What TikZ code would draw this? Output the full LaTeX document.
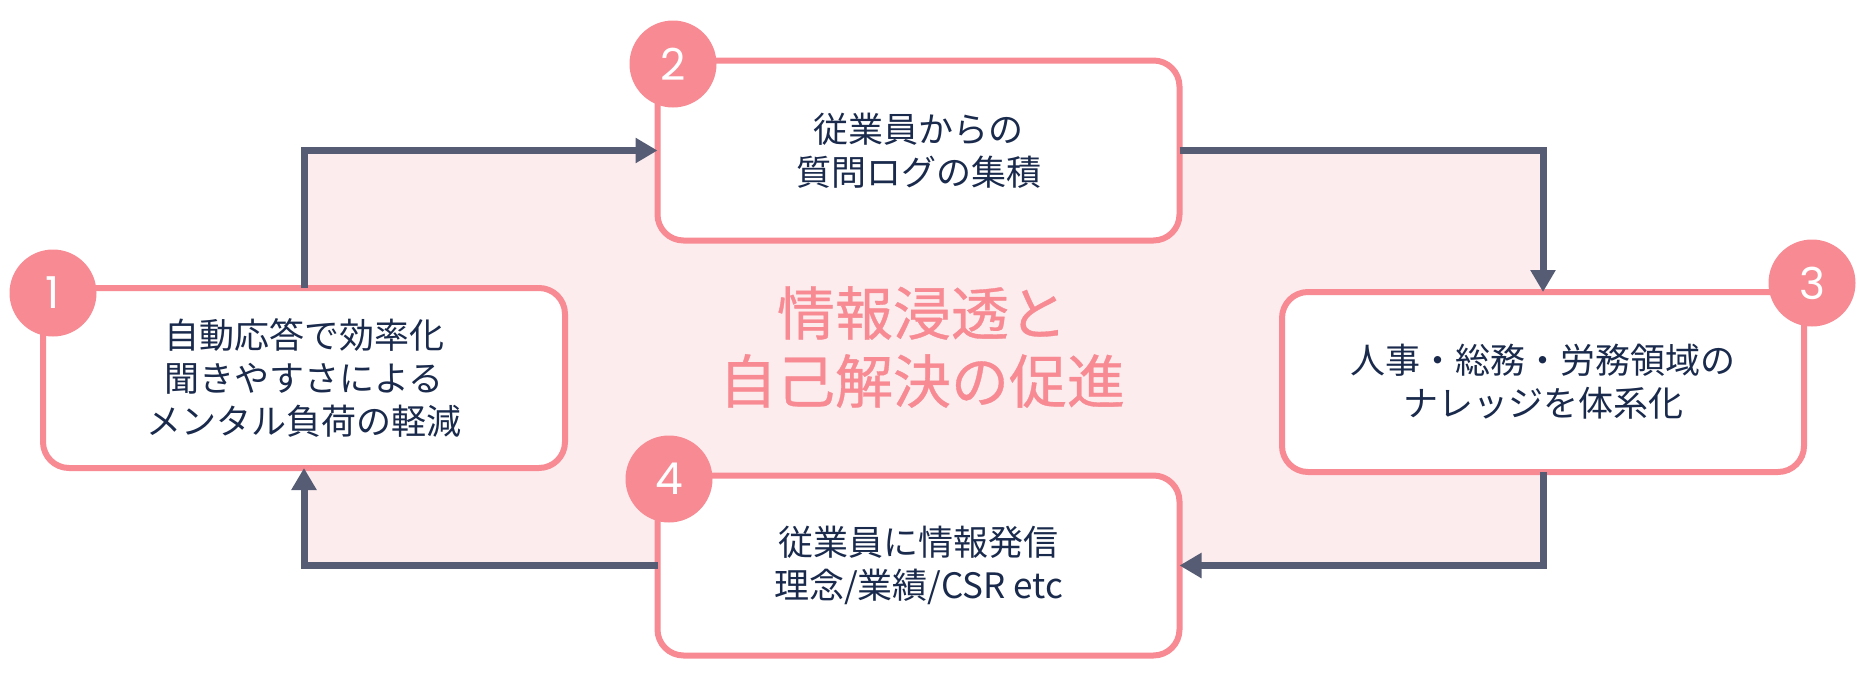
\documentclass[tikz,border=0pt]{standalone}
\usepackage{fontspec}
\setmainfont{Noto Sans CJK JP}
\newfontfamily\numfont{Poppins}
\newfontfamily\titlefont{Noto Sans CJK JP}[FakeBold=0.6]
\usetikzlibrary{arrows.meta,backgrounds}
\definecolor{pinkline}{HTML}{F78A92}
\definecolor{pinkbg}{HTML}{FDECEE}
\definecolor{arrowc}{HTML}{575C75}
\definecolor{textc}{HTML}{1A2A4C}
\begin{document}
\begin{tikzpicture}[x=1pt,y=-1pt,
  box/.style={draw=pinkline, line width=6pt, fill=white, rounded corners=26pt,
    minimum width=522pt, minimum height=180pt, outer sep=0pt, inner sep=0pt,
    align=center, font=\fontsize{35}{43}\selectfont, text=textc},
  badge/.style={circle, fill=pinkline, minimum size=87pt, inner sep=0pt,
    text=white, font=\numfont\fontsize{44}{44}\selectfont},
  flow/.style={draw=arrowc, line width=7pt, -{Triangle[length=22pt,width=24pt]}},
  title/.style={text=pinkline, font=\titlefont\fontsize{58}{68}\selectfont, align=center}]
\useasboundingbox (0,0) rectangle (1872,688);
\node[box] (b1) at (304,378) {自動応答で効率化\\聞きやすさによる\\メンタル負荷の軽減};
\node[box] (b2) at (918.5,150.5) {従業員からの\\質問ログの集積};
\node[box] (b3) at (1543,382) {人事・総務・労務領域の\\ナレッジを体系化};
\node[box] (b4) at (918.5,565.5) {従業員に情報発信\\理念/業績/CSR etc};
\begin{scope}[on background layer]
  \fill[pinkbg] (b1.center |- b2.center) rectangle (b3.center |- b4.center);
\end{scope}
\node[title] (t) at (922,347) {情報浸透と\\自己解決の促進};
\draw[flow] (b1.north) |- (b2.west);
\draw[flow] (b2.east) -| (b3.north);
\draw[flow] (b3.south) |- (b4.east);
\draw[flow] (b4.west) -| (b1.south);
\node[badge] (n1) at (53,293) {1};
\node[badge] (n2) at (673,64) {2};
\node[badge] (n3) at (1812,283) {3};
\node[badge] (n4) at (669,479) {4};
\end{tikzpicture}
\end{document}
